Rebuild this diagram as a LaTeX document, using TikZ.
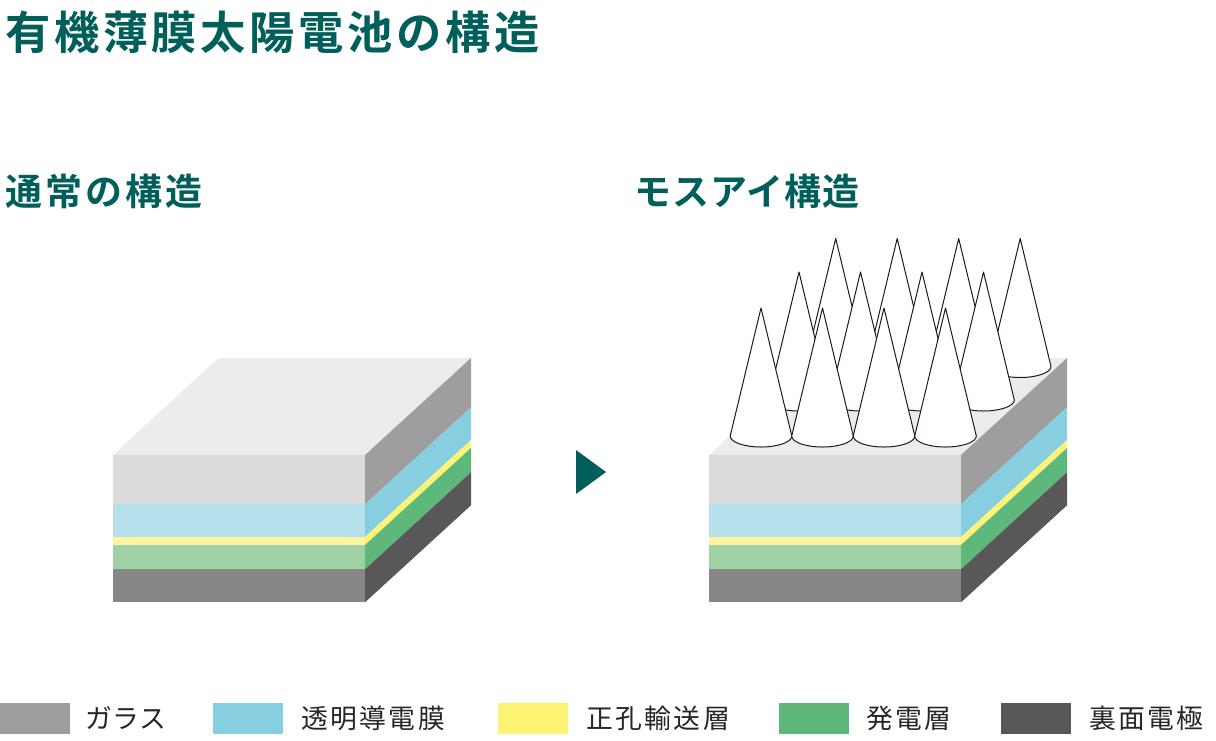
\documentclass[tikz,border=0pt]{standalone}
\usepackage{fontspec}
\usepackage{xcolor}
\usetikzlibrary{calc}
\newfontfamily\jpbold[LetterSpace=8]{Noto Sans CJK JP Bold}
\newfontfamily\jpsub[LetterSpace=8]{Noto Sans CJK JP Bold}
\newfontfamily\jpkana[LetterSpace=3]{Noto Sans CJK JP Bold}
\newfontfamily\jpreg[LetterSpace=9]{Noto Sans CJK JP}
\newfontfamily\jpregkana[LetterSpace=2]{Noto Sans CJK JP}
\definecolor{heading}{HTML}{005F5A}
\definecolor{glassfront}{HTML}{DBDBDB}
\definecolor{glassside}{HTML}{9E9E9E}
\definecolor{glasstop}{HTML}{ECECEC}
\definecolor{tcofront}{HTML}{B5E0EC}
\definecolor{tcoside}{HTML}{86CEE0}
\definecolor{holefront}{HTML}{FFF59E}
\definecolor{holeside}{HTML}{FFF375}
\definecolor{genfront}{HTML}{9FD1A4}
\definecolor{genside}{HTML}{5EB87C}
\definecolor{backfront}{HTML}{878787}
\definecolor{backside}{HTML}{595757}
\definecolor{conelinecol}{HTML}{231815}
\tikzset{
  titletext/.style={anchor=west,inner sep=0pt,text=heading,font=\jpbold\fontsize{45.3}{45.3}\selectfont},
  subtext/.style={anchor=west,inner sep=0pt,text=heading,font=\jpsub\fontsize{37}{37}\selectfont},
  kanatext/.style={anchor=west,inner sep=0pt,text=heading,font=\jpkana\fontsize{37}{37}\selectfont},
  legendtext/.style={anchor=west,inner sep=0pt,text=black!85,font=\jpreg\fontsize{26.8}{26.8}\selectfont},
  cone/.style={fill=white,draw=conelinecol,line width=1pt,line join=round}
}
\begin{document}
\begin{tikzpicture}[x=1pt,y=-1pt]
  \useasboundingbox (0,0) rectangle (1216,740);
  \node[titletext] (title) at (5,32) {有機薄膜太陽電池の構造};
  \node[subtext] (normalhead) at (5,191) {通常の構造};
  \node[kanatext] (motheyehead) at (634,191) {モスアイ構造};
  % both blocks, left and right
  \foreach \bx in {113,709}{
    \fill[glasstop] (\bx,455)--(\bx+105.5,358)--(\bx+358,358)--(\bx+252,455)--cycle;
    \foreach \ya/\yb/\cf/\cs in {455/504.3/glassfront/glassside,504.3/537/tcofront/tcoside,537/545/holefront/holeside,545/569.3/genfront/genside,569.3/602.3/backfront/backside}{
      \fill[\cf] (\bx,\ya) rectangle (\bx+252,\yb);
      \fill[\cs] (\bx+252,\ya)--(\bx+358,\ya-97)--(\bx+358,\yb-97)--(\bx+252,\yb)--cycle;
    }
  }
  \fill[heading] (576,450)--(606,472)--(576,494)--cycle;
  % cones, back row first
  \foreach \rowx/\rowy in {74.7/238.5,38/272,0/308}{
    \foreach \n in {0,1,2,3}{
      \draw[cone] ($(761,\rowy)+(\rowx+61.5*\n,0)$) -- ++(-30.8,128) arc[start angle=180,end angle=360,x radius=30.8pt,y radius=11pt] -- cycle;
    }
  }
  % legend
  \foreach \sx/\col/\lx/\lab/\nm in {0/glassside/85/\jpregkana ガラス/a,213/tcoside/301/透明導電膜/b,498/holeside/586/正孔輸送層/c,779/genside/866/発電層/d,1001/backside/1089/裏面電極/e}{
    \fill[\col] (\sx,703) rectangle (\sx+70,734);
    \node[legendtext] (legend\nm) at (\lx,718) {\lab};
  }
\end{tikzpicture}
\end{document}
